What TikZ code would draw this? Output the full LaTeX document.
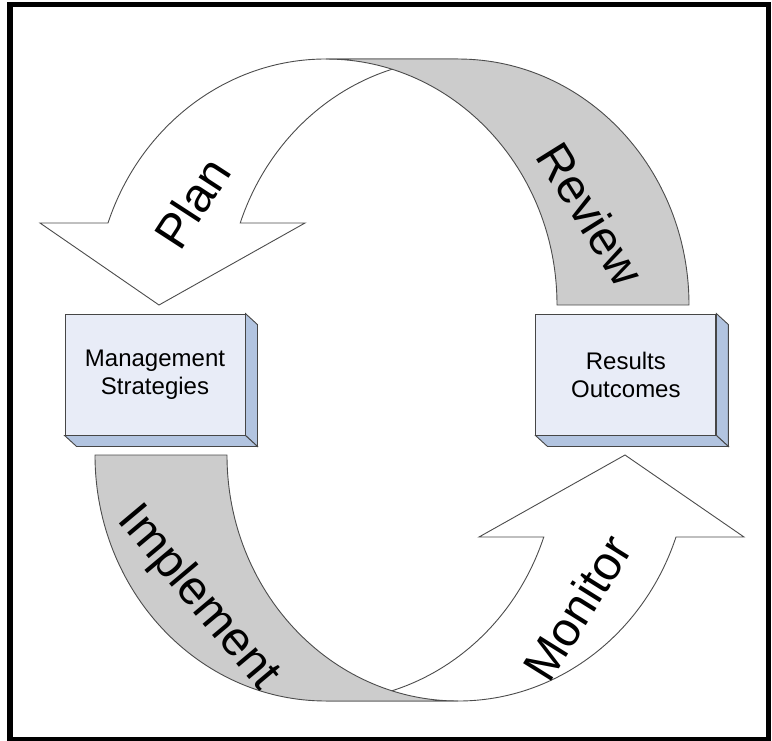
\documentclass[tikz,border=0pt]{standalone}
\usepackage{fontspec}
\setmainfont{Liberation Sans}
\usetikzlibrary{positioning,calc}
\definecolor{bandgrey}{RGB}{204,204,204}
\definecolor{boxfront}{RGB}{232,236,247}
\definecolor{boxside}{RGB}{178,196,224}
\definecolor{boxedge}{RGB}{70,70,70}

\begin{document}
\begin{tikzpicture}[x=1pt, y=-1pt, line join=miter]
	\tikzstyle{ribbon}=[draw=black!70, line width=0.9pt]
	\tikzstyle{white band}=[ribbon, fill=white]
	\tikzstyle{grey band}=[ribbon, fill=bandgrey]
	\tikzstyle{box}=[draw=boxedge, fill=boxfront, line width=0.9pt, inner sep=0pt, minimum width=180pt, minimum height=121pt, align=center, font=\fontsize{24}{28}\selectfont]
	\tikzstyle{side}=[draw=boxedge, fill=boxside, line width=0.9pt]
	\tikzstyle{stage}=[inner sep=0pt, font=\fontsize{48}{56}\selectfont]
	\def\rx{231}
	\def\ry{246}
	\useasboundingbox (0,0) rectangle (772,740);
	% Plan (white, upper left)
	\draw[white band] (40,223) -- (108,223)
		arc[start angle=199.47, end angle=270, x radius=\rx, y radius=\ry]
		-- (458,59)
		arc[start angle=270, end angle=199.47, x radius=\rx, y radius=\ry]
		-- (305,223) -- (159,305) -- cycle;
	% Monitor (white, lower right)
	\draw[white band] (744,537) -- (676,537)
		arc[start angle=19.47, end angle=90, x radius=\rx, y radius=\ry]
		-- (326,701)
		arc[start angle=90, end angle=19.47, x radius=\rx, y radius=\ry]
		-- (479,537) -- (625,455) -- cycle;
	% Review (grey, upper right)
	\draw[grey band] (326,59)
		arc[start angle=270, end angle=360, x radius=\rx, y radius=\ry]
		-- (689,305)
		arc[start angle=0, end angle=-90, x radius=\rx, y radius=\ry]
		-- cycle;
	% Implement (grey, lower left)
	\draw[grey band] (95,455)
		arc[start angle=180, end angle=90, x radius=\rx, y radius=\ry]
		-- (458,701)
		arc[start angle=90, end angle=180, x radius=\rx, y radius=\ry]
		-- cycle;
	% boxes
	\node[box] (ms) at (155,374.5) {Management\\Strategies};
	\node[box, right=290pt of ms] (ro) {Results\\Outcomes};
	\foreach \b in {ms,ro} {
		\draw[side] (\b.north east) -- +(12,11) -- ([shift={(12,11)}]\b.south east) -- (\b.south east) -- cycle;
		\draw[side] (\b.south west) -- +(12,11) -- ([shift={(12,11)}]\b.south east) -- (\b.south east) -- cycle;
	}
	% stage names
	\node[stage, rotate=57]  (plan)   at (192,203) {Plan};
	\node[stage, rotate=-58] (review) at (591,214) {Review};
	\node[stage, rotate=-50] (impl)   at (198,598) {Implement};
	\node[stage, rotate=58]  (mon)    at (577,608) {Monitor};
	% frame
	\draw[line width=5.5pt] (10,4.5) rectangle (768.5,739.5);
\end{tikzpicture}
\end{document}
